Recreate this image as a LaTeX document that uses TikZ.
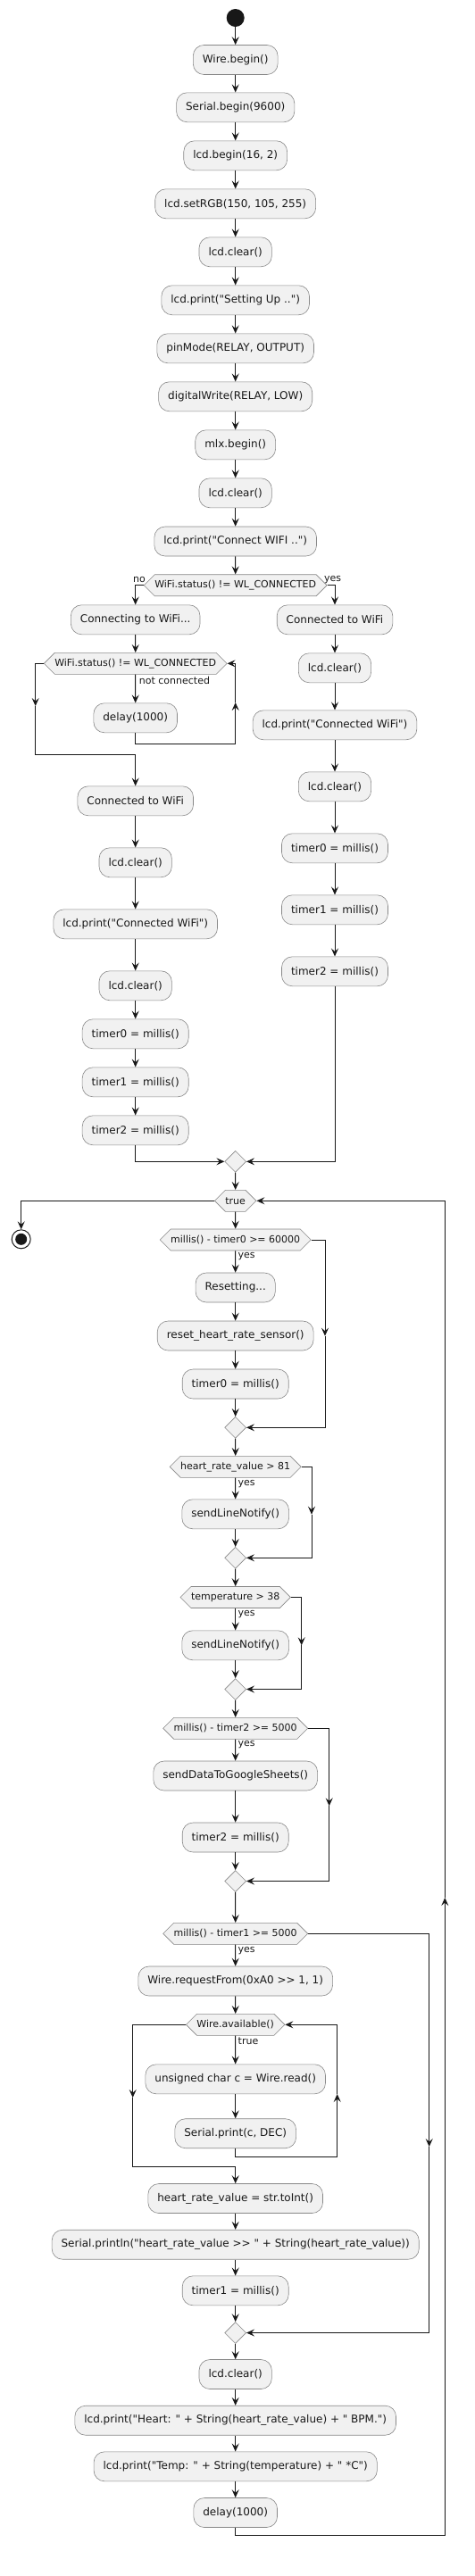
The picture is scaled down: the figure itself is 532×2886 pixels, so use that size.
\documentclass[tikz,border=0pt]{standalone}
\usepackage{fontspec}
\newfontfamily\codefont{DejaVu Sans}
\usepackage{tikz}
\usetikzlibrary{positioning}
\usetikzlibrary{shapes.geometric,shapes.symbols,arrows.meta}
\usepackage{xcolor}
\definecolor{boxfill}{HTML}{F1F1F1}
\definecolor{boxline}{HTML}{888888}
\definecolor{ink}{HTML}{181818}

\begin{document}
\begin{tikzpicture}[x=1pt, y=-1pt,
  act/.style = {shape=rectangle, rounded corners=12pt,
    draw=boxline, fill=boxfill, line width=0.6pt, text=ink,
    minimum height=33pt, inner xsep=10.5pt, inner ysep=0pt,
    font=\codefont\fontsize{12}{14}\selectfont},
  test/.style = {shape=signal, signal to=west and east, signal pointer angle=90,
    draw=boxline, fill=boxfill, line width=0.6pt, text=ink,
    minimum height=24pt, inner xsep=0pt, inner ysep=0pt,
    font=\codefont\fontsize{11}{13}\selectfont},
  merge/.style = {shape=diamond, draw=boxline, fill=boxfill, line width=0.6pt,
    minimum size=24pt, inner sep=0pt},
  guard/.style = {inner sep=0pt, text=ink, font=\codefont\fontsize{11}{13}\selectfont},
  flow/.style = {draw=ink, line width=1pt, -{Stealth[length=9pt,width=8pt,inset=3.5pt]}}
  ]
  \useasboundingbox (0,0) rectangle (532,2886);

  % setup
  \node[circle, fill=ink, minimum size=20pt, inner sep=0pt] (start) at (263.7,20) {};
  \node[act] (n1) at (263.7,67) {Wire.begin()};
  \node[act] (n2) at (263.7,120.3) {Serial.begin(9600)};
  \node[act] (n3) at (263.7,174.3) {lcd.begin(16, 2)};
  \node[act] (n4) at (263.7,228.3) {lcd.setRGB(150, 105, 255)};
  \node[act] (n5) at (263.7,282.3) {lcd.clear()};
  \node[act] (n6) at (263.7,336.3) {lcd.print("Setting Up ..")};
  \node[act] (n7) at (263.7,390.3) {pinMode(RELAY, OUTPUT)};
  \node[act] (n8) at (263.7,444.3) {digitalWrite(RELAY, LOW)};
  \node[act] (n9) at (263.7,498.3) {mlx.begin()};
  \node[act] (n10) at (263.7,552.3) {lcd.clear()};
  \node[act] (n11) at (263.7,606.5) {lcd.print("Connect WIFI ..")};
  \node[test] (d1) at (263.7,655.7) {WiFi.status() != WL\_CONNECTED};
  \node[guard] (gno) at (156,649.5) {no};
  \node[guard] (gyes) at (372.7,649.5) {yes};

  % not connected yet
  \node[act] (l1) at (151.7,694.3) {Connecting to WiFi...};
  \node[test] (wt) at (151.7,743.3) {WiFi.status() != WL\_CONNECTED};
  \node[guard, anchor=west] (gnc) at (155.7,762) {not connected};
  \node[act] (l2) at (151.7,804.3) {delay(1000)};
  \node[act] (l3) at (151.7,897.3) {Connected to WiFi};
  \node[act] (l4) at (151.7,966.3) {lcd.clear()};
  \node[act] (l5) at (151.7,1035.3) {lcd.print("Connected WiFi")};
  \node[act] (l6) at (151.7,1104.3) {lcd.clear()};
  \node[act] (l7) at (151.7,1158.3) {timer0 = millis()};
  \node[act] (l8) at (151.7,1212.3) {timer1 = millis()};
  \node[act] (l9) at (151.7,1266.3) {timer2 = millis()};

  % already connected
  \node[act] (r1) at (375,694.3) {Connected to WiFi};
  \node[act] (r2) at (375,748.3) {lcd.clear()};
  \node[act] (r3) at (375,812.3) {lcd.print("Connected WiFi")};
  \node[act] (r4) at (375,881.3) {lcd.clear()};
  \node[act] (r5) at (375,950.3) {timer0 = millis()};
  \node[act] (r6) at (375,1019.3) {timer1 = millis()};
  \node[act] (r7) at (375,1088.3) {timer2 = millis()};

  \node[merge] (m1) at (263.7,1301.3) {};
  \node[test] (tr) at (263.7,1345.3) {true};
  \node[circle, draw=ink, line width=1pt, minimum size=21pt, inner sep=0pt] (end) at (23.7,1388.3) {};
  \fill[ink] (end) circle (6.5pt);

  % loop body
  \node[test] (c1) at (263.7,1389) {millis() - timer0 >= 60000};
  \node[guard, anchor=west] (gy1) at (266.5,1407.3) {yes};
  \node[act] (a1) at (263.7,1442.5) {Resetting...};
  \node[act] (a2) at (263.7,1496.5) {reset\_heart\_rate\_sensor()};
  \node[act] (a3) at (263.7,1550.5) {timer0 = millis()};
  \node[merge] (m2) at (263.7,1599.3) {};
  \node[test] (c2) at (263.7,1643.3) {heart\_rate\_value > 81};
  \node[guard, anchor=west] (gy2) at (266.5,1662.3) {yes};
  \node[act] (a4) at (263.7,1696.3) {sendLineNotify()};
  \node[merge] (m3) at (263.7,1745.3) {};
  \node[test] (c3) at (263.7,1789.5) {temperature > 38};
  \node[guard, anchor=west] (gy3) at (266.5,1808.3) {yes};
  \node[act] (a5) at (263.7,1843.3) {sendLineNotify()};
  \node[merge] (m4) at (263.7,1892.5) {};
  \node[test] (c4) at (263.7,1936.3) {millis() - timer2 >= 5000};
  \node[guard, anchor=west] (gy4) at (266.5,1954.3) {yes};
  \node[act] (a6) at (263.7,1989.5) {sendDataToGoogleSheets()};
  \node[act] (a7) at (263.7,2058.5) {timer2 = millis()};
  \node[merge] (m5) at (263.7,2107.5) {};
  \node[test] (c5) at (263.7,2166.3) {millis() - timer1 >= 5000};
  \node[guard, anchor=west] (gy5) at (266.5,2185.3) {yes};
  \node[act] (a8) at (263.7,2219.5) {Wire.requestFrom(0xA0 >> 1, 1)};
  \node[test] (wa) at (263.7,2268.3) {Wire.available()};
  \node[guard, anchor=west] (gtr) at (266.5,2287) {true};
  \node[act] (a9) at (263.7,2329.3) {unsigned char c = Wire.read()};
  \node[act] (a10) at (263.7,2390.2) {Serial.print(c, DEC)};
  \node[act] (a11) at (263.7,2463) {heart\_rate\_value = str.toInt()};
  \node[act] (a12) at (263.7,2514.7) {Serial.println("heart\_rate\_value >> " + String(heart\_rate\_value))};
  \node[act] (a13) at (263.7,2566.3) {timer1 = millis()};
  \node[merge] (m6) at (263.7,2613.5) {};
  \node[act] (a14) at (263.7,2660) {lcd.clear()};
  \node[act] (a15) at (263.7,2711.7) {lcd.print("Heart: " + String(heart\_rate\_value) + " BPM.")};
  \node[act] (a16) at (263.7,2763.3) {lcd.print("Temp: " + String(temperature) + " *C")};
  \node[act] (a17) at (263.7,2815) {delay(1000)};

  % straight arrows
  \foreach \a/\b in {start/n1, n1/n2, n2/n3, n3/n4, n4/n5, n5/n6, n6/n7, n7/n8,
      n8/n9, n9/n10, n10/n11, n11/d1,
      l1/wt, wt/l2, l3/l4, l4/l5, l5/l6, l6/l7, l7/l8, l8/l9,
      r1/r2, r2/r3, r3/r4, r4/r5, r5/r6, r6/r7,
      m1/tr, tr/c1, c1/a1, a1/a2, a2/a3, a3/m2, m2/c2, c2/a4, a4/m3, m3/c3,
      c3/a5, a5/m4, m4/c4, c4/a6, a6/a7, a7/m5, m5/c5, c5/a8, a8/wa, wa/a9,
      a9/a10, a11/a12, a12/a13, a13/m6, m6/a14, a14/a15, a15/a16, a16/a17}
    \draw[flow] (\a) -- (\b);

  % branches
  \draw[flow] (d1.west) -| (l1.north);
  \draw[flow] (d1.east) -| (r1.north);
  \draw[flow] (l9.south) |- (m1.west);
  \draw[flow] (r7.south) |- (m1.east);
  \draw[flow] (tr.west) -| (end.north);

  % wifi wait loop
  \coordinate (kA) at (39.7,791);
  \coordinate (kB) at (263.7,787);
  \draw[flow] (l2.south) -- (151.7,833.3) -| (kB);
  \draw[flow] (kB) |- (wt.east);
  \draw[flow] (wt.west) -| (kA);
  \draw[flow] (kA) -- (39.7,845.3) -| (l3.north);

  % skipped ifs
  \coordinate (k1) at (364,1496.7);
  \coordinate (k2) at (349,1696.7);
  \coordinate (k3) at (337.7,1843.3);
  \coordinate (k4) at (368.7,2023.3);
  \coordinate (k5) at (480.7,2405);
  \draw[flow] (c1.east) -| (k1);
  \draw[flow] (k1) |- (m2.east);
  \draw[flow] (c2.east) -| (k2);
  \draw[flow] (k2) |- (m3.east);
  \draw[flow] (c3.east) -| (k3);
  \draw[flow] (k3) |- (m4.east);
  \draw[flow] (c4.east) -| (k4);
  \draw[flow] (k4) |- (m5.east);
  \draw[flow] (c5.east) -| (k5);
  \draw[flow] (k5) |- (m6.east);

  % Wire.available loop
  \coordinate (kW) at (377.7,2346);
  \coordinate (kV) at (148.7,2350);
  \draw[flow] (a10.south) -- (263.7,2416) -| (kW);
  \draw[flow] (kW) |- (wa.east);
  \draw[flow] (wa.west) -| (kV);
  \draw[flow] (kV) -- (148.7,2427.3) -| (a11.north);

  % back to while(true)
  \coordinate (kZ) at (498.3,2126);
  \draw[flow] (a17.south) -- (263.7,2840.7) -| (kZ);
  \draw[flow] (kZ) |- (tr.east);
\end{tikzpicture}
\end{document}
